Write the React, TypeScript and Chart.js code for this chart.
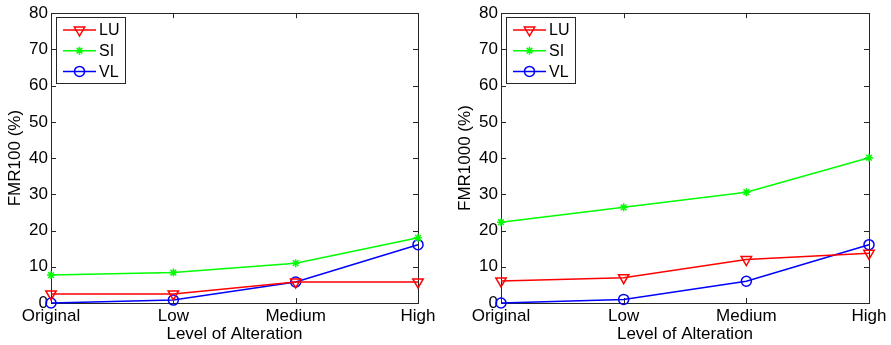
import React, { useEffect, useRef } from 'react';
import { Chart, registerables } from 'chart.js';

Chart.register(...registerables);

const categories = ['Original', 'Low', 'Medium', 'High'];
const yTickValues = [0, 10, 20, 30, 40, 50, 60, 70, 80];
const seriesNames = ['LU', 'SI', 'VL'];
const seriesColors = ['#ff0000', '#00ff00', '#0000ff'];
const seriesMarkers = ['triangleDown', 'star', 'circle'];

const fmr100LU = [2.5, 2.5, 5.8, 5.8];
const fmr100SI = [7.7, 8.4, 11.0, 18.0];
const fmr100VL = [0.0, 0.8, 5.8, 16.1];

const fmr1000LU = [6.1, 7.0, 12.0, 13.7];
const fmr1000SI = [22.3, 26.4, 30.6, 40.1];
const fmr1000VL = [0.0, 1.0, 6.0, 16.1];

const FONT = '"Liberation Sans", Arial, Helvetica, sans-serif';
const AXIS_COLOR = '#262626';

function drawMarker(ctx: CanvasRenderingContext2D, kind: string, x: number, y: number, color: string) {
  ctx.save();
  ctx.strokeStyle = color;
  ctx.lineWidth = 1.5;
  ctx.beginPath();
  if (kind === 'triangleDown') {
    const r = 6;
    ctx.moveTo(x, y + r);
    ctx.lineTo(x - r * 0.866, y - r * 0.5);
    ctx.lineTo(x + r * 0.866, y - r * 0.5);
    ctx.closePath();
  } else if (kind === 'star') {
    const r = 4;
    ctx.moveTo(x - r, y); ctx.lineTo(x + r, y);
    ctx.moveTo(x, y - r); ctx.lineTo(x, y + r);
    const d = r * 0.7071;
    ctx.moveTo(x - d, y - d); ctx.lineTo(x + d, y + d);
    ctx.moveTo(x - d, y + d); ctx.lineTo(x + d, y - d);
  } else {
    ctx.arc(x, y, 5, 0, Math.PI * 2);
  }
  ctx.stroke();
  ctx.restore();
}

const framePlugin = {
  id: 'matlabFrame',
  beforeDatasetsDraw(chart: any) {
    const { ctx, chartArea } = chart;
    const { left, right, top, bottom } = chartArea;
    const xs = chart.scales.x;
    const ys = chart.scales.y;
    ctx.save();
    ctx.strokeStyle = AXIS_COLOR;
    ctx.lineWidth = 1;
    ctx.strokeRect(Math.round(left) + 0.5, Math.round(top) + 0.5, Math.round(right - left), Math.round(bottom - top));
    const tl = 5;
    ctx.beginPath();
    xs.ticks.forEach((_t: any, i: number) => {
      const px = Math.round(xs.getPixelForTick(i)) + 0.5;
      ctx.moveTo(px, bottom); ctx.lineTo(px, bottom - tl);
      ctx.moveTo(px, top); ctx.lineTo(px, top + tl);
    });
    ys.ticks.forEach((_t: any, i: number) => {
      const py = Math.round(ys.getPixelForTick(i)) + 0.5;
      ctx.moveTo(left, py); ctx.lineTo(left + tl, py);
      ctx.moveTo(right, py); ctx.lineTo(right - tl, py);
    });
    ctx.stroke();
    ctx.restore();
  },
};

const legendPlugin = {
  id: 'matlabLegend',
  afterDraw(chart: any) {
    const { ctx, chartArea } = chart;
    const bx = Math.round(chartArea.left) + 5;
    const by = Math.round(chartArea.top) + 4;
    const bw = 69;
    const bh = 66;
    ctx.save();
    ctx.fillStyle = '#ffffff';
    ctx.fillRect(bx, by, bw, bh);
    ctx.strokeStyle = AXIS_COLOR;
    ctx.lineWidth = 1;
    ctx.strokeRect(bx + 0.5, by + 0.5, bw, bh);
    ctx.font = `16px ${FONT}`;
    ctx.textBaseline = 'middle';
    ctx.textAlign = 'left';
    chart.data.datasets.forEach((ds: any, i: number) => {
      const cy = by + 13 + i * 20.7;
      ctx.strokeStyle = ds.borderColor;
      ctx.lineWidth = 1.5;
      ctx.beginPath();
      ctx.moveTo(bx + 7, cy);
      ctx.lineTo(bx + 40, cy);
      ctx.stroke();
      drawMarker(ctx, seriesMarkers[i], bx + 23.5, cy, ds.borderColor);
      ctx.fillStyle = '#000000';
      ctx.fillText(ds.label, bx + 43, cy + 1);
    });
    ctx.restore();
  },
};

type PanelProps = {
  left: number;
  width: number;
  yTitle: string;
  series: number[][];
  yAxisWidth: number;
  padRight: number;
  yTitlePad: number;
};

function Panel({ left, width, yTitle, series, yAxisWidth, padRight, yTitlePad }: PanelProps) {
  const ref = useRef<HTMLCanvasElement | null>(null);
  useEffect(() => {
    if (!ref.current) return;
    const pointStyles = ['triangle', 'star', 'circle'];
    const rotations = [180, 0, 0];
    const radii = [6, 4, 5];
    const chart = new Chart(ref.current, {
      type: 'line',
      data: {
        labels: categories,
        datasets: series.map((vals, i) => ({
          label: seriesNames[i],
          data: vals,
          borderColor: seriesColors[i],
          backgroundColor: 'rgba(0,0,0,0)',
          pointBackgroundColor: 'rgba(0,0,0,0)',
          pointBorderColor: seriesColors[i],
          pointStyle: pointStyles[i] as any,
          pointRotation: rotations[i],
          pointRadius: radii[i],
          pointBorderWidth: 1.5,
          borderWidth: 1.5,
          tension: 0,
          clip: false as any,
        })),
      },
      options: {
        animation: false,
        responsive: false,
        devicePixelRatio: 1,
        layout: { padding: { left: 0, right: padRight, top: 11, bottom: 0 } },
        plugins: { legend: { display: false }, tooltip: { enabled: false } },
        scales: {
          x: {
            type: 'category',
            offset: false,
            grid: { display: false, drawTicks: false },
            border: { display: false },
            ticks: {
              color: '#000000',
              padding: 3,
              maxRotation: 0,
              autoSkip: false,
              font: { family: FONT, size: 17 },
            },
            title: {
              display: true,
              text: 'Level of Alteration',
              color: '#000000',
              padding: { top: 0, bottom: 0 },
              font: { family: FONT, size: 17 },
            },
            afterFit(scale: any) { scale.height = 42; },
          },
          y: {
            min: 0,
            max: 80,
            grid: { display: false, drawTicks: false },
            border: { display: false },
            afterBuildTicks(scale: any) { scale.ticks = yTickValues.map((v) => ({ value: v })); },
            ticks: {
              color: '#000000',
              padding: 3,
              font: { family: FONT, size: 17 },
            },
            title: {
              display: true,
              text: yTitle,
              color: '#000000',
              padding: { top: yTitlePad, bottom: 0 },
              font: { family: FONT, size: 17 },
            },
            afterFit(scale: any) { scale.width = yAxisWidth; },
          },
        },
      },
      plugins: [framePlugin, legendPlugin],
    });
    return () => chart.destroy();
  }, []);
  return (
    <div style={{ position: 'absolute', left, top: 0, width, height: 345 }}>
      <canvas ref={ref} width={width} height={345} style={{ width, height: 345, display: 'block' }} />
    </div>
  );
}

export default function App() {
  return (
    <div style={{ position: 'fixed', left: 0, top: 0, width: 891, height: 345, background: '#ffffff', overflow: 'hidden' }}>
      <Panel left={0} width={445} yTitle="FMR100 (%)" series={[fmr100LU, fmr100SI, fmr100VL]} yAxisWidth={51} padRight={27} yTitlePad={5} />
      <Panel left={445} width={446} yTitle="FMR1000 (%)" series={[fmr1000LU, fmr1000SI, fmr1000VL]} yAxisWidth={56} padRight={22} yTitlePad={10} />
    </div>
  );
}
